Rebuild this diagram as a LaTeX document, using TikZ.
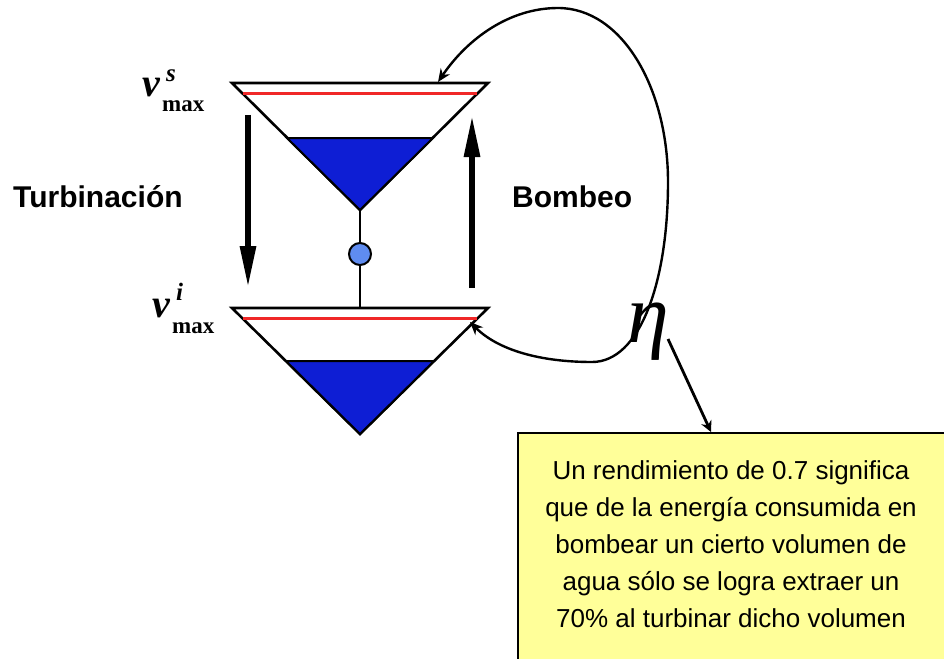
\documentclass[tikz,border=0pt]{standalone}
\usepackage{fontspec}
\setmainfont{Liberation Sans}
\newfontfamily\serifv{Liberation Serif}
\usetikzlibrary{arrows.meta}
\definecolor{water}{RGB}{14,30,212}
\definecolor{pumpc}{RGB}{95,140,240}
\definecolor{noteyellow}{RGB}{255,255,153}
\definecolor{levelred}{RGB}{240,40,40}
\tikzset{
  tank/.style={draw=black, line width=2.6pt, fill=white, line join=miter},
  waterfill/.style={draw=black, line width=2pt, fill=water},
  level/.style={draw=levelred, line width=3pt},
  flowarrow/.style={line width=6pt, -{Triangle[length=42pt,width=15pt]}},
  loop/.style={line width=2.4pt, {Stealth[length=13pt,width=11pt]}-{Stealth[length=13pt,width=11pt]}},
  callout/.style={line width=2.8pt, -{Stealth[length=11pt,width=11pt]}},
  lab/.style={inner sep=0pt, font=\fontsize{30}{36}\selectfont\bfseries},
  notebox/.style={draw=black, line width=2pt, fill=noteyellow},
  notetext/.style={align=center, inner sep=0pt, font=\fontsize{26}{37}\selectfont},
}
\begin{document}
\begin{tikzpicture}[x=1pt,y=-1pt]
\useasboundingbox (0,0) rectangle (944,658);
\clip (0,0) rectangle (944,658);
% upper reservoir
\coordinate (uL) at (232,83);
\coordinate (uR) at (488,83);
\coordinate (uA) at (360,210);
\draw[tank] (uL) -- (uR) -- (uA) -- cycle;
\draw[waterfill] (287,138) -- (433,138) -- (uA) -- cycle;
\draw[level] (243,94) -- (477,94);
% lower reservoir
\coordinate (lL) at (232,308);
\coordinate (lR) at (488,308);
\coordinate (lA) at (360,434);
\coordinate (lT) at (360,308);
\draw[tank] (lL) -- (lR) -- (lA) -- cycle;
\draw[waterfill] (286,361) -- (434,361) -- (lA) -- cycle;
\draw[level] (243,318) -- (477,318);
% pipe and pump
\node (pump) [circle, draw=black, line width=2pt, fill=pumpc, minimum size=22pt, inner sep=0pt] at (360,254) {};
\draw[line width=2.6pt] (uA) -- (pump) -- (lT);
% vertical arrows
\coordinate (tTop) at (248,115);
\coordinate (tBot) at (248,288);
\coordinate (bBot) at (472,288);
\coordinate (bTop) at (472,115);
\draw[flowarrow] (tTop) -- (tBot);
\draw[flowarrow] (bBot) -- (bTop);
% labels
\node[lab, anchor=base west] (turb) at (13,207) {Turbinación};
\node[lab, anchor=base west] (bomb) at (512,207) {Bombeo};
% v labels
\node[inner sep=0pt, anchor=base west, font=\serifv\fontsize{40}{40}\selectfont\bfseries\itshape] (vs) at (142,97) {v};
\node[inner sep=0pt, anchor=base west, font=\serifv\fontsize{25}{25}\selectfont\bfseries\itshape] (vss) at (166,82) {s};
\node[inner sep=0pt, anchor=base west, font=\serifv\fontsize{23}{23}\selectfont\bfseries] (vsm) at (162,112) {max};
\node[inner sep=0pt, anchor=base west, font=\serifv\fontsize{40}{40}\selectfont\bfseries\itshape] (vi) at (152,317) {v};
\node[inner sep=0pt, anchor=base west, font=\serifv\fontsize{25}{25}\selectfont\bfseries\itshape] (vis) at (176,300) {i};
\node[inner sep=0pt, anchor=base west, font=\serifv\fontsize{23}{23}\selectfont\bfseries] (vim) at (172,333) {max};
% pumping loop
\coordinate (loopA) at (438,82);
\coordinate (loopB) at (470,322);
\draw[loop] (loopA) .. controls (468,38) and (510,8) .. (558,8)
  .. controls (622,8) and (668,88) .. (668,182)
  .. controls (668,282) and (640,362) .. (592,362)
  .. controls (540,362) and (498,350) .. (loopB);
% eta
\node[inner sep=0pt, anchor=base, font=\serifv\fontsize{84}{84}\selectfont\itshape] (eta) at (648,342) {η};
% note box
\node[notebox, minimum width=450pt, minimum height=250pt, anchor=north west, inner sep=0pt] (box) at (517,432) {};
\node[notetext] (note) at (731,544) {Un rendimiento de 0.7 significa\\que de la energía consumida en\\bombear un cierto volumen de\\agua sólo se logra extraer un\\70\% al turbinar dicho volumen};
\coordinate (boxIn) at (711,432);
\draw[callout] (668,339) -- (boxIn);
\end{tikzpicture}
\end{document}
